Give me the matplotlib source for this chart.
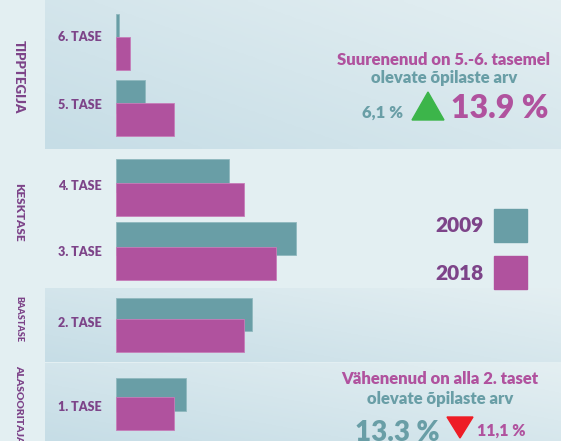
import numpy as np
import matplotlib.pyplot as plt
from matplotlib.patches import Rectangle, Polygon
from matplotlib.colors import LinearSegmentedColormap

# Data (share of students by level, %)
levels = ["6. TASE", "5. TASE", "4. TASE", "3. TASE", "2. TASE", "1. TASE"]
y2009 = [0.5, 5.6, 21.5, 34.2, 25.9, 13.3]
y2018 = [2.7, 11.1, 24.4, 30.5, 24.4, 11.1]
groups = ["TIPPTEGIJA", "KESKTASE", "BAASTASE", "ALASOORITAJA"]

# Layout (pixel rows, figure is 561x441)
W, H = 561, 441
top2009 = [14, 80, 159, 222, 298, 378]
top2018 = [37, 103, 183, 247, 319, 397]
label_y = [37, 105, 186, 252, 323, 407]
bar_h = 33
group_y = [77, 212, 319, 404]
group_size = [9.5, 8.5, 6.5, 7.5]
panels = [(0, 149), (288, 362), (363, 441)]
px_per_pct = 5.25
x0 = 116

TEAL = "#699ea6"
PINK = "#b0529e"
PURPLE = "#7d4489"
BG = "#e3eff2"
FW = "heavy"

fig = plt.figure(figsize=(W / 100, H / 100), dpi=100)
fig.patch.set_facecolor(BG)

bg = fig.add_axes([0, 0, 1, 1])
bg.axis("off")

# gradient panels
gx, gy = np.meshgrid(np.linspace(0, 1, 200), np.linspace(0, 1, 60))
grad = 0.55 * gx + 0.45 * (1 - gy)
cmap = LinearSegmentedColormap.from_list("p", ["#c6dde6", "#e4eff2"])
for y_a, y_b in panels:
    bg.imshow(grad, cmap=cmap, extent=(45, W, y_b, y_a), aspect="auto",
              interpolation="bilinear", zorder=0)
bg.set_xlim(0, W)
bg.set_ylim(H, 0)

# group labels
for g, gyc, fs in zip(groups, group_y, group_size):
    bg.text(19, gyc, g, rotation=-90, ha="center", va="center", color=PURPLE,
            fontsize=fs, fontweight=FW, family="Lato")

# level labels
for lab, ly in zip(levels, label_y):
    bg.text(102, ly, lab, ha="right", va="center", color=PURPLE,
            fontsize=9, fontweight=FW, family="Lato")

# bars
ax = fig.add_axes([x0 / W, 0, 1 - x0 / W, 1])
ax.set_xlim(0, (W - x0) / px_per_pct)
ax.set_ylim(H, 0)
ax.axis("off")
ax.patch.set_alpha(0)
ax.barh([t + bar_h / 2 for t in top2009], y2009, height=bar_h, color=TEAL,
        edgecolor="#8fb8be", linewidth=0.6, zorder=2)
ax.barh([t + bar_h / 2 for t in top2018], y2018, height=bar_h, color=PINK,
        edgecolor="#c77db9", linewidth=0.6, zorder=3)

# legend
for yr, col, ty in [("2009", TEAL, 226), ("2018", PINK, 273)]:
    bg.add_patch(Rectangle((494, ty - 17), 33, 33, color=col, zorder=2))
    bg.text(484, ty, yr, ha="right", va="center", color=PURPLE,
            fontsize=15, fontweight=FW, family="Lato")

# top annotation
bg.text(444, 60, "Suurenenud on 5.-6. tasemel", ha="center", va="center",
        color=PINK, fontsize=12, fontweight=FW, family="Lato")
bg.text(444, 78, "olevate õpilaste arv", ha="center", va="center",
        color=TEAL, fontsize=12, fontweight=FW, family="Lato")
bg.text(403, 113, "6,1 %", ha="right", va="center", color=TEAL,
        fontsize=12, fontweight=FW, family="Lato")
bg.add_patch(Polygon([(412, 120), (444, 120), (428, 92)], color="#3cb54a"))
bg.text(451, 108, "13.9 %", ha="left", va="center", color=PINK,
        fontsize=23, fontweight=FW, family="Lato")

# bottom annotation
bg.text(440, 379, "Vähenenud on alla 2. taset", ha="center", va="center",
        color=PINK, fontsize=12, fontweight=FW, family="Lato")
bg.text(440, 399, "olevate õpilaste arv", ha="center", va="center",
        color=TEAL, fontsize=12, fontweight=FW, family="Lato")
bg.text(440, 441, "13.3 %", ha="right", va="baseline", color=TEAL,
        fontsize=20, fontweight=FW, family="Lato")
bg.add_patch(Polygon([(447, 417), (473, 417), (460, 438)], color="#ee1c25"))
bg.text(477, 436, "11,1 %", ha="left", va="baseline", color=PINK,
        fontsize=11.5, fontweight=FW, family="Lato")

fig.savefig("out.png", dpi=100, facecolor=BG)
